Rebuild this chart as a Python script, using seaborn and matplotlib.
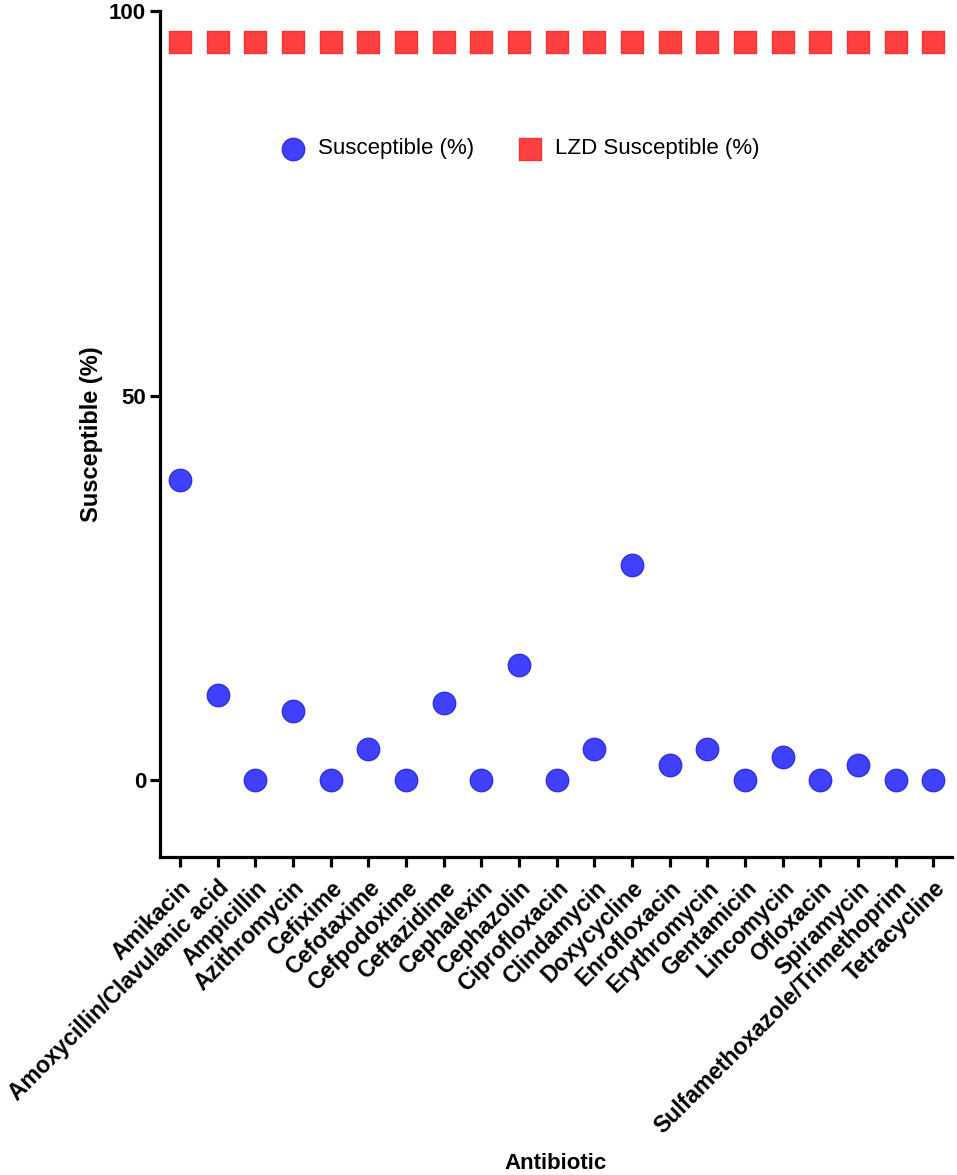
import matplotlib
matplotlib.use("Agg")
import matplotlib.pyplot as plt
import pandas as pd
import seaborn as sns

# antibiotic panel, in plotting order
antibiotics = [
    "Amikacin", "Amoxycillin/Clavulanic acid", "Ampicillin", "Azithromycin",
    "Cefixime", "Cefotaxime", "Cefpodoxime", "Ceftazidime", "Cephalexin",
    "Cephazolin", "Ciprofloxacin", "Clindamycin", "Doxycycline", "Enrofloxacin",
    "Erythromycin", "Gentamicin", "Lincomycin", "Ofloxacin", "Spiramycin",
    "Sulfamethoxazole/Trimethoprim", "Tetracycline",
]
susceptible = [39, 11, 0, 9, 0, 4, 0, 10, 0, 15, 0, 4, 28, 2, 4, 0, 3, 0, 2, 0, 0]
lzd_susceptible = [96] * len(antibiotics)

series_names = ["Susceptible (%)", "LZD Susceptible (%)"]
y_ticks = [0, 50, 100]

df = pd.concat([
    pd.DataFrame({"Antibiotic": antibiotics, "value": susceptible, "series": series_names[0]}),
    pd.DataFrame({"Antibiotic": antibiotics, "value": lzd_susceptible, "series": series_names[1]}),
])

sns.set_style("ticks")
plt.rcParams["font.family"] = ["Liberation Sans", "DejaVu Sans"]
plt.rcParams["text.color"] = "black"
plt.rcParams["axes.labelcolor"] = "black"
plt.rcParams["xtick.color"] = "black"
plt.rcParams["ytick.color"] = "black"

fig = plt.figure(figsize=(9.57, 11.75), dpi=100)
ax = fig.add_axes([160 / 957, 1 - 857 / 1175, 792 / 957, 846 / 1175])

colors = {series_names[0]: "#4040FF", series_names[1]: "#FF4040"}
edges = {series_names[0]: "#3030E0", series_names[1]: "#F03535"}
markers = {series_names[0]: "o", series_names[1]: "s"}

for name in series_names:
    sub = df[df["series"] == name]
    sns.scatterplot(data=sub, x="Antibiotic", y="value", ax=ax,
                    color=colors[name], marker=markers[name], s=260,
                    edgecolor=edges[name], linewidth=1, label=name, zorder=3)

ax.set_xlim(-0.53, len(antibiotics) - 0.5)
ax.set_ylim(-10, 100)
ax.set_yticks(y_ticks)
ax.set_xticks(range(len(antibiotics)))
ax.set_xticklabels(antibiotics, rotation=45, ha="right", rotation_mode="anchor",
                   fontsize=16.5, fontweight="bold")
for lab in ax.get_yticklabels():
    lab.set_fontsize(16)
    lab.set_fontweight("bold")

ax.set_xlabel("Antibiotic", fontsize=16, fontweight="bold")
ax.xaxis.set_label_coords(0.5, -(1153 - 857) / 846)
ax.set_ylabel("Susceptible (%)", fontsize=17, fontweight="bold", labelpad=4)

sns.despine(ax=ax)
for sp in ["left", "bottom"]:
    ax.spines[sp].set_linewidth(2.3)
    ax.spines[sp].set_color("black")
ax.tick_params(axis="both", length=7, width=2.3, color="black", pad=3)
ax.tick_params(axis="x", pad=7)

leg = ax.legend(loc="center", bbox_to_anchor=(0.4485, 0.837), ncol=2, frameon=False,
                fontsize=16, handletextpad=0.15, columnspacing=1.5, markerscale=1.0)

fig.savefig("out.png", dpi=100)
